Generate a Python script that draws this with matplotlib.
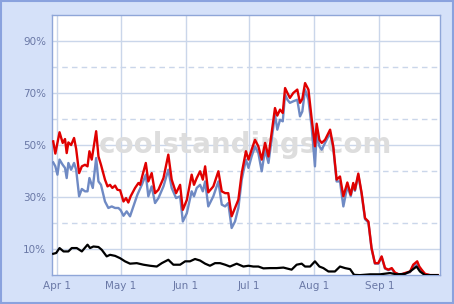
import matplotlib
matplotlib.use("Agg")
import matplotlib.pyplot as plt
import numpy as np
import datetime as dt

# days after Apr 1 and probabilities (%)
red_days = [-2, -1, 1, 2.5, 3.6, 4.4, 5.2, 6.5, 7.9, 8.9, 10.3, 11.6, 13.1, 14.3, 15.2, 16.3,
            18.4, 19.5, 20.7, 22.6, 23.8, 25, 26.1, 27.4, 28.5, 29.8, 31.4, 32.6, 33.7, 34.8,
            36.9, 38.5, 39.3, 40.5, 42, 43.2, 44.8, 46.4, 48, 50.4, 52.7, 54.3, 56.4, 58.3,
            59.6, 61.5, 63.8, 64.9, 66.2, 67.8, 69.1, 70.2, 71.7, 74.1, 76.5, 78.1, 79.7,
            81.2, 82.8, 84.4, 86, 87.6, 89.6, 90.8, 92.3, 93.9, 95.5, 97.1, 98.7, 100.3,
            101.8, 103.4, 104.5, 105.8, 107.1, 108.2, 109.3, 110.5, 112.1, 114, 115.3, 116.4,
            117.7, 119.3, 120.8, 122.4, 123.2, 124.5, 125.6, 127.2, 129.6, 131.1, 132.7,
            134.3, 135.9, 137.8, 139.4, 140.6, 141.4, 143, 144.6, 146.2, 147.8, 149.3, 150.9,
            152.5, 154.1, 155.7, 157.3, 158.9, 160.4, 162.8, 165.2, 167.6, 169.1, 171, 172,
            173.1, 174.7, 177.1, 180.7]
red_vals = [51.4, 46.7, 54.9, 50.8, 52.3, 46.9, 51, 50, 52.7, 48.5, 39.2, 41.8, 42.4, 41.8, 47.6,
            44.4, 55.3, 45.6, 42.4, 36.7, 34.1, 34.7, 33.5, 34.4, 32.8, 32.6, 28.3, 29.6, 27.9,
            30.3, 33.5, 35.4, 34.7, 38.6, 43.1, 36, 39.2, 31.5, 32.8, 37.3, 46.3, 36.7, 31.5,
            34.7, 25.1, 28.9, 38.6, 34.7, 37.3, 39.9, 36.7, 41.8, 31.8, 34.1, 39.9, 32.2, 31.5,
            31.5, 22.6, 25.8, 29, 39.2, 47.6, 44.4, 48.2, 52, 49.5, 44.4, 50.8, 45.6, 54.6,
            64.2, 61.3, 63.6, 62.3, 71.9, 70, 68.1, 70, 71.3, 66.2, 67.7, 73.8, 71.3, 60.4,
            49.5, 58.2, 52, 50.8, 52, 55.9, 49.5, 36.7, 37.9, 30.3, 35.6, 30.9, 35.4, 32.8, 39,
            31.5, 21.9, 20.6, 10.4, 4.6, 4.6, 7.2, 2.7, 2.1, 2.7, 1, 0.1, 0.8, 1.4, 4, 5.3,
            3.3, 2.1, 0.5, 0, 0]

blue_days = [-2, -1, 0, 1, 2.5, 3.6, 4.4, 5.2, 6.5, 7.9, 8.9, 10.3, 11.6, 13.1, 14.3, 15.2,
             16.8, 18.4, 19.5, 20.7, 22.6, 24.2, 25.8, 27.4, 29, 30.1, 31.4, 32.9, 34.5, 36.1,
             38, 40.1, 42, 43.2, 44.8, 46.4, 48, 50.4, 52.7, 54.3, 56.4, 58.3, 59.6, 61.5, 63.8,
             64.9, 66.2, 67.8, 69.1, 70.2, 71.7, 74.1, 76.5, 78.1, 79.7, 81.2, 82.8, 84.4, 86,
             87.6, 89.6, 90.8, 92.3, 93.9, 95.5, 97.1, 98.7, 100.3, 101.8, 103.4, 104.5, 105.8,
             107.1, 108.2, 109.3, 110.5, 112.1, 114, 115.3, 116.4, 117.7, 119.3, 120.8, 122.4,
             123.2, 124.5, 125.6, 127.2, 129.6, 131.1, 132.7, 134.3, 135.9, 137.8, 139.4,
             140.6, 141.4, 143, 144.6, 146.2, 147.8, 149.3, 150.9, 152.5, 154.1, 155.7, 157.3,
             158.9, 160.4, 162.8, 165.2, 167.6, 169.1, 171, 172, 173.1, 174.7, 177.1, 180.7]
blue_vals = [43.3, 41.8, 38.6, 44.4, 42.4, 41.2, 37.3, 43.1, 40.5, 43.1, 40.5, 30.3, 33.1, 32.2,
             32.2, 37.3, 33.5, 45, 36, 34.7, 28.3, 25.8, 26.4, 25.8, 25.8, 24.9, 22.8, 24.5,
             22.6, 26.4, 30.9, 34.7, 38.6, 30.3, 34.1, 27.7, 29.6, 34.1, 40.5, 33.5, 29.6, 30.3,
             20.6, 23.8, 32.2, 30.3, 33.5, 34.7, 32.2, 36, 26.4, 30.3, 36, 27.1, 26.4, 27.7,
             18.1, 20.6, 25.8, 36.7, 44.4, 41.2, 45.6, 49.5, 46.9, 39.9, 48.2, 43.1, 52, 61.7,
             55.9, 59.7, 59.1, 69.4, 67.4, 66.2, 66.8, 67.4, 61, 62.9, 71.3, 67.4, 57.2, 41.8,
             54.6, 49.5, 48.2, 50.8, 54.6, 48.8, 36, 36, 26.4, 34.1, 30.3, 34.7, 32.4, 38.5,
             31, 21.5, 20.2, 10.1, 4.4, 4.4, 6.9, 2.5, 1.9, 2.4, 0.8, 0.1, 0.6, 1.1, 3.2, 4.2,
             2.8, 1.6, 0.3, 0, 0]

black_days = [-2, -0.6, 1, 2.9, 5.2, 6.8, 9.2, 11.6, 14.3, 15.5, 17.1, 19.5, 21.1, 23.4, 25,
              27.4, 29.8, 32.1, 34.5, 37.7, 40.9, 44, 47.2, 49.6, 52.7, 55.1, 58.3, 60.7, 63,
              65.4, 67.8, 70.2, 72.5, 74.9, 77.3, 79.7, 82, 85.2, 88.4, 90.8, 93.1, 95.5, 97.9,
              101, 104.2, 107.4, 111.3, 113.7, 116.1, 117.7, 120.1, 122.4, 124.5, 126.4, 128.8,
              131.9, 134.3, 136.7, 139.1, 141, 143.8, 148.6, 153.3, 158.1, 161.2, 165.2, 167.6,
              170.7, 172.3, 174.7, 180.7]
black_vals = [8.2, 8.5, 10.4, 9.1, 9.1, 10.4, 10.4, 9.1, 11.7, 10.4, 11, 10.8, 9.7, 7.2, 7.8,
              7.4, 6.5, 5.3, 4.4, 4.6, 4, 3.6, 3.3, 4.6, 5.9, 4, 4, 5.3, 5.3, 6.2, 5.6, 4.4, 3.6,
              4.6, 4.6, 4, 3.3, 4.4, 3.3, 3.6, 3.3, 3.3, 2.6, 2.7, 2.7, 2.9, 2.1, 4, 4.4, 3.3,
              3.3, 5.3, 3.3, 2.7, 1.4, 1.4, 3.3, 2.7, 2.3, 0.1, 0, 0.3, 0.3, 0.8, 0.3, 0.5, 1.4,
              3.3, 1.4, 0, 0]

month_labels = ["Apr 1", "May 1", "Jun 1", "Jul 1", "Aug 1", "Sep 1"]

start = dt.datetime(2008, 4, 1)


def to_dates(days):
    return [start + dt.timedelta(days=d) for d in days]


bg = "#d5e1f9"
fig = plt.figure(figsize=(4.54, 3.04), dpi=100, facecolor=bg)
fig.patches.append(plt.Rectangle((0.002, 0.003), 0.995, 0.994, transform=fig.transFigure,
                                 fill=False, edgecolor="#8aa2de", linewidth=1.5))
ax = fig.add_axes([0.114, 0.095, 0.855, 0.856])
ax.set_facecolor("white")

ax.plot(to_dates(blue_days), blue_vals, color="#6f8ac4", lw=1.7, zorder=3)
ax.plot(to_dates(red_days), red_vals, color="#e00000", lw=1.7, zorder=4)
ax.plot(to_dates(black_days), black_vals, color="black", lw=1.6, zorder=5)

ax.set_ylim(0, 100)
ax.set_xlim(start - dt.timedelta(days=2.7), start + dt.timedelta(days=181.8))

ticks = [dt.datetime(2008, m, 1) for m in range(4, 10)]
ax.set_xticks(ticks)
ax.set_xticklabels(month_labels)
ax.set_yticks([10, 30, 50, 70, 90])
ax.set_yticklabels(["10%", "30%", "50%", "70%", "90%"])
ax.tick_params(length=0, labelsize=7.5, colors="#6a78a6", pad=4)

gc = "#cad6ea"
for t in ticks:
    ax.axvline(t, color=gc, lw=1, zorder=1)
for y in [10, 30, 50, 70, 90]:
    ax.axhline(y, color=gc, lw=1, zorder=1)
for y in [20, 40, 60, 80]:
    ax.axhline(y, color=gc, lw=1, ls=(0, (4, 3)), zorder=1)

for s in ax.spines.values():
    s.set_color("#8fa6d8")
    s.set_linewidth(1)

# watermark
ax.text(0.5, 0.5, "coolstandings.com", transform=ax.transAxes, ha="center", va="center",
        fontsize=20, fontweight="bold", color="#dddddd", zorder=2)

fig.savefig("out.png", dpi=100, facecolor=bg)
